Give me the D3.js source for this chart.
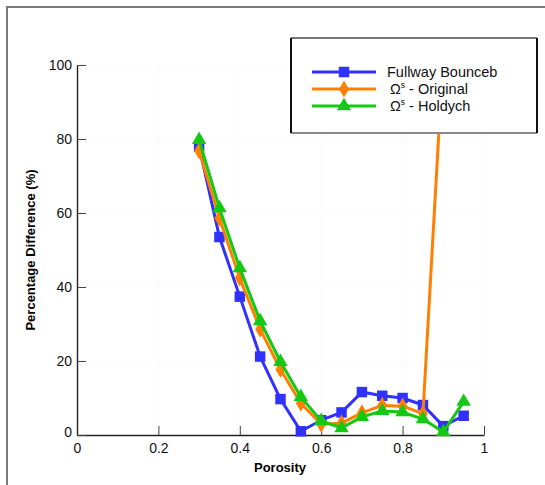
<!DOCTYPE html>
<html><head><meta charset="utf-8">
<script src="https://cdn.jsdelivr.net/npm/d3@7"></script>
<style>body{margin:0;background:#fff}svg{display:block;font-family:"Liberation Sans",Arial,sans-serif}</style>
</head><body>
<svg id="c" width="545" height="485"></svg>
<script>
const porosity = [0.3,0.35,0.4,0.45,0.5,0.55,0.6,0.65,0.7,0.75,0.8,0.85,0.9,0.95];
const fullwayBounceb = [78,53.5,37.4,21.2,9.7,1,4,6.1,11.6,10.6,10,8.1,2.4,5.2];
const omegaOriginalX = [0.3,0.35,0.4,0.45,0.5,0.55,0.6,0.65,0.7,0.75,0.8,0.85,0.9];
const omegaOriginal = [76.8,58.6,42.4,28.6,17.7,8.6,2.9,3.2,6,8,7.8,5.8,103];
const omegaHoldych = [79.8,61.3,45.1,30.8,19.8,10.3,3.8,1.9,4.9,6.5,6.2,4.3,0.8,9];
const xTicks = [0,0.2,0.4,0.6,0.8,1];
const yTicks = [0,20,40,60,80,100];
const seriesNames = ["Fullway Bounceb","Original","Holdych"];

const svg = d3.select("#c");
const x = d3.scaleLinear().domain([0,1]).range([77,484]);
const y = d3.scaleLinear().domain([0,100]).range([435,65]);

// outer frame
svg.append("path").attr("d","M7,485 V7 H545").attr("fill","none").attr("stroke","#7a7a7a").attr("stroke-width",2);

// faint grid
const g = svg.append("g");
g.selectAll("line.gy").data(yTicks.slice(1)).join("line")
 .attr("x1",x(0)).attr("x2",x(1)).attr("y1",d=>y(d)).attr("y2",d=>y(d))
 .attr("stroke","#f0f0f0").attr("stroke-dasharray","1,3");
g.selectAll("line.gx").data(xTicks.slice(1)).join("line")
 .attr("x1",d=>x(d)).attr("x2",d=>x(d)).attr("y1",y(0)).attr("y2",y(100))
 .attr("stroke","#f0f0f0").attr("stroke-dasharray","1,3");

// axes
const xa = svg.append("g").attr("transform",`translate(0,${y(0)})`)
 .call(d3.axisBottom(x).tickValues(xTicks).tickFormat(d=>d===0?"0":d===1?"1":d3.format(".1f")(d)).tickSizeInner(-9).tickSizeOuter(0).tickPadding(5));
const ya = svg.append("g").attr("transform",`translate(${x(0)},0)`)
 .call(d3.axisLeft(y).tickValues(yTicks).tickSizeInner(-9).tickSizeOuter(0).tickPadding(5));
[xa,ya].forEach(a=>{
  a.select(".domain").attr("stroke","#222").attr("stroke-width",1.4);
  a.selectAll(".tick line").attr("stroke","#444").attr("stroke-width",1);
  a.selectAll("text").attr("font-size",14).attr("fill","#111").attr("font-family","'Liberation Sans',Arial,sans-serif");
});
xa.selectAll(".tick text").attr("dy","0.9em");
ya.selectAll(".tick text").filter(d=>d===0).attr("dy","0.1em");

svg.append("text").attr("x",280).attr("y",472).attr("text-anchor","middle")
 .attr("font-weight","bold").attr("font-size",13).text("Porosity");
svg.append("text").attr("transform","translate(35,250) rotate(-90)").attr("text-anchor","middle")
 .attr("font-weight","bold").attr("font-size",13).text("Percentage Difference (%)");

const line = d3.line().x(d=>x(d[0])).y(d=>y(d[1]));
const colors = ["#3030ff","#ff8000","#14c814"];
const datasets = [
  d3.zip(porosity, fullwayBounceb),
  d3.zip(omegaOriginalX, omegaOriginal),
  d3.zip(porosity, omegaHoldych)
];
const sq = d3.symbol().type(d3.symbolSquare).size(110)();
const dm = d3.symbol().type(d3.symbolDiamond).size(85)();
const tr = d3.symbol().type(d3.symbolTriangle).size(90)();
const shapes = [sq, dm, tr];

datasets.forEach((ds,i)=>{
  svg.append("path").datum(ds).attr("d",line).attr("fill","none")
   .attr("stroke",colors[i]).attr("stroke-width",3).attr("stroke-linejoin","round");
  svg.append("g").selectAll("path").data(ds).join("path")
   .attr("d",shapes[i]).attr("transform",d=>`translate(${x(d[0])},${y(d[1])})`)
   .attr("fill",colors[i]);
});

// legend
const L = svg.append("g");
L.append("rect").attr("x",291).attr("y",38).attr("width",246).attr("height",95).attr("fill","#fff");
L.append("line").attr("x1",291).attr("x2",537).attr("y1",38).attr("y2",38).attr("stroke","#777").attr("stroke-width",2);
L.append("line").attr("x1",291).attr("x2",537).attr("y1",133).attr("y2",133).attr("stroke","#888").attr("stroke-width",2);
L.append("line").attr("x1",291).attr("x2",291).attr("y1",38).attr("y2",133).attr("stroke","#111").attr("stroke-width",2);
L.append("line").attr("x1",537).attr("x2",537).attr("y1",38).attr("y2",133).attr("stroke","#111").attr("stroke-width",2);
const rows = [72,89,106];
rows.forEach((ry,i)=>{
  L.append("line").attr("x1",312).attr("x2",376).attr("y1",ry).attr("y2",ry).attr("stroke",colors[i]).attr("stroke-width",3);
  L.append("path").attr("d",shapes[i]).attr("transform",`translate(344,${ry})`).attr("fill",colors[i]);
  const t = L.append("text").attr("x",i===0?387:390).attr("y",ry+5).attr("font-size",14.5).attr("fill","#111");
  if(i===0){ t.text(seriesNames[0]); }
  else {
    t.append("tspan").text("Ω");
    t.append("tspan").attr("font-size",8.5).attr("dy",-6).text("s");
    t.append("tspan").attr("dy",6).text(" - "+seriesNames[i]);
  }
});
</script>
</body></html>
